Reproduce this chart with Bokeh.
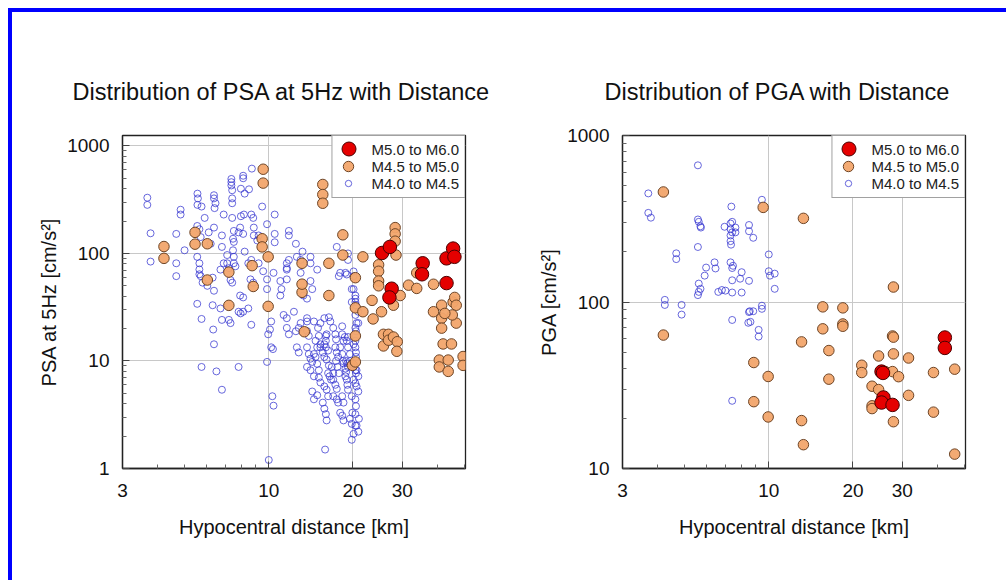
from bokeh.plotting import figure
from bokeh.models import Range1d, FixedTicker, PrintfTickFormatter, Legend, LegendItem, Spacer
from bokeh.layouts import row, column
from bokeh.embed import file_html
from bokeh.resources import INLINE

FONT = "Liberation Sans"

legend_labels = ["M5.0 to M6.0", "M4.5 to M5.0", "M4.0 to M4.5"]
x_ticks = [3, 10, 20, 30]
x_minor = [4, 5, 6, 7, 8, 9, 40, 50]

# ---------------- PSA at 5 Hz (left panel) ----------------
psa_m50_dist = [25.4, 27.1, 27.5, 27.0, 35.5, 35.3, 43.2, 45.6, 46.1, 43.2]
psa_m50_val = [101, 115, 47, 39, 81, 64, 90, 111, 93, 53]

psa_m45_dist = [4.22, 4.22, 5.45, 5.45, 6.03, 6.03, 7.2, 7.2, 8.72, 8.8, 9.55, 9.55, 9.47, 9.47,
                9.95, 9.95, 13.15, 13.15, 13.15, 13.4, 15.6, 15.6, 15.6, 16.4, 16.4, 18.4, 18.4,
                20.4, 20.4, 20.4, 19.9, 20.4, 21.7, 21.7, 23.4, 23.6, 24.7, 24.7, 24.7, 24.7,
                25.3, 25.7, 25.7, 26.8, 26.8, 27.9, 28.3, 28.3, 28.3, 28.5, 28.8, 28.7, 29.5,
                27.9, 31.6, 33.8, 33.8, 38.8, 38.8, 41.5, 41.5, 41.5, 42.0, 40.7, 40.7, 43.8,
                43.8, 45.0, 45.6, 46.2, 46.8, 46.8, 45.3, 49.5, 49.5, 42.6]
psa_m45_val = [116, 90, 157, 122, 123, 56.6, 67, 32.9, 77, 49.3, 607, 451, 137, 115,
               93, 32.2, 81, 43.5, 51.8, 18.7, 438, 353, 293, 81, 40.6, 149, 96.6,
               59.5, 31.2, 17.1, 9.1, 9.8, 93, 28.7, 36.6, 24.6, 78.4, 68.3, 55.4, 50,
               28.7, 17.7, 13.8, 17.7, 15.6, 16.7, 174, 152, 130, 96.6, 15.1, 12.3, 40.6,
               33, 50.7, 47.3, 66, 51.7, 28.7, 33, 25, 20.2, 14.4, 10.2, 8.8, 10.2,
               8.0, 14.4, 35.3, 39, 33, 22.5, 26.8, 11.0, 9.1, 27.7]

psa_m40_dist = [8.7, 8.1, 8.1, 7.35, 7.35, 7.35, 7.4, 8.5, 7.4, 7.4, 6.37, 6.45, 6.4, 5.56, 5.58,
                5.56, 5.75, 4.84, 4.84, 3.68, 3.68, 5.9, 6.9, 7.95, 8.15, 8.66, 8.8, 9.47, 10.5,
                7.95, 8.2, 7.4, 7.9, 6.37,
                3.78, 3.78, 4.67, 4.67, 4.67, 5.0, 5.55, 5.65, 5.71, 6.1, 6.2, 6.8, 6.37, 6.8,
                7.45, 7.5, 7.5, 7.8, 8.1, 8.2, 8.84, 8.84, 9.2, 9.1, 9.86, 10.5, 10.5, 11.8, 11.8,
                12.5, 13.2, 14.1, 14.1, 11.8, 11.6, 5.55, 5.65, 5.65, 5.65, 5.71, 5.8, 6.03, 6.3,
                6.37, 6.72, 6.9, 7.1, 7.1, 7.2, 7.3, 7.45, 7.5, 7.5, 7.6, 7.4, 7.9, 8.1, 8.6, 8.8,
                8.45, 8.66, 9.2, 9.55, 9.86, 9.86, 10.4, 11.0, 11.1, 11.6, 11.6, 11.6, 12.6, 13.0,
                13.0, 14.1, 14.3, 13.3, 13.7, 14.9, 17.5, 18.0, 17.8, 18.8, 19.0, 19.2, 19.2, 20.1,
                20.1, 19.8, 20.4, 20.9, 20.9, 20.4, 20.1,
                5.55, 5.75, 6.33, 6.37, 6.3, 6.72, 6.8, 7.2, 7.3, 7.8, 7.93, 8.1, 8.45, 8.66, 5.75,
                6.5, 6.8, 7.8, 9.86, 9.95, 10.1, 10.2, 10.35, 10.3, 10.4, 10.0, 11.6, 11.8, 11.6,
                11.3, 12.3, 13.0, 12.8, 12.6, 12.8, 13.7, 13.9, 13.7, 13.7, 13.7, 13.9, 14.1, 14.3,
                13.7, 14.1, 14.5, 14.3, 14.5, 14.9, 15.1, 15.3, 15.0, 15.1, 15.3, 15.3, 15.6, 15.8,
                15.8, 16.0, 16.0, 16.1, 16.0, 16.3, 16.1, 16.4, 16.3, 16.5, 16.7, 15.8, 16.1, 16.3,
                15.6, 15.8, 16.0, 16.1, 15.9, 16.8, 17.0, 17.0, 17.3, 17.4, 17.3, 17.5, 17.7, 17.4,
                17.6, 17.8, 17.0, 17.3, 17.5, 17.0, 17.5, 17.7, 18.0, 18.3, 18.5, 18.3, 18.5, 18.3,
                18.3, 18.5, 18.0, 18.3, 18.4, 18.5, 18.8, 18.9, 18.8, 19.0, 19.1, 19.2, 19.0, 19.2,
                18.7, 19.2, 19.5, 18.9, 19.1, 19.2, 19.5, 19.7, 20.1, 20.4, 20.5, 20.1, 20.4, 19.8,
                20.4, 20.5, 19.9, 20.4, 19.5, 19.8, 20.4, 20.1, 19.8, 20.9, 20.6, 21.0, 20.4, 20.5,
                20.5, 20.4, 20.5, 20.6, 20.1, 20.4, 20.6, 20.9, 20.6, 20.9, 16.6, 16.4, 15.8, 15.3,
                14.5, 14.7, 14.9, 14.5, 14.7, 14.9, 15.1, 20.4, 20.5, 19.8, 20.4, 12.5, 11.0, 10.2]
psa_m40_val = [615, 528, 500, 493, 460, 429, 387, 395, 325, 293, 325, 293, 264, 360, 325,
               283, 273, 255, 230, 330, 283, 214, 230, 222, 230, 230, 214, 273, 230,
               400, 360, 214, 174, 348,
               154, 84, 152, 81, 61.5, 107, 180, 168, 142, 157, 123, 115, 174, 147,
               137, 128, 162, 157, 152, 104, 174, 147, 147, 132, 187, 152, 127, 162, 147,
               123, 104, 93, 81, 87, 73, 93, 81, 71, 64, 61.5, 53.5, 50, 59.5,
               45, 70.7, 81, 96.6, 81, 73, 56.6, 107, 93, 81, 76, 53.5, 40.6, 39, 57.4, 53.5,
               81, 87, 81, 68.3, 57.4, 46.6, 66, 55.4, 46.6, 81, 70.7, 57.4, 93, 66,
               87, 55.4, 46.6, 40.6, 38, 70.7, 115, 66, 61.5, 66, 63.7, 100, 87, 68,
               46.6, 35.3, 40.6, 28.7, 22.5, 26.8, 61.5,
               34, 24.6, 19.6, 14.3, 33, 30.8, 24.1, 24.1, 22.5, 28.7, 27.7, 28.7, 30.8, 21.7, 8.8,
               8.0, 5.4, 8.8, 9.8, 17.7, 19.6, 13.4, 12.9, 4.7, 3.84, 1.2, 20.3, 17.7, 25,
               26.8, 28.7, 22.5, 20.3, 13.4, 12, 19, 17.1, 25, 23.3, 13.4, 11.6, 10.5, 9.8,
               8.8, 8.2, 7.2, 5.2, 4.4, 4.8, 7.0, 6.3, 20.3, 17.1, 14.3, 13.4, 12.0, 10.9,
               14.3, 15.4, 17.1, 17.7, 13.4, 12.5, 10.3, 9.1, 7.7, 7.2, 6.7, 5.8, 5.4, 4.7,
               4.1, 3.6, 3.2, 2.8, 1.5, 8.8, 7.7, 20.3, 17.7, 15.9, 13.4, 12, 10.9, 10,
               8.8, 7.7, 6.7, 6.0, 5.5, 4.7, 4.4, 4.1, 3.3, 3.1, 2.8, 4.7, 4.1, 21,
               17.7, 15.4, 13.4, 11.6, 10, 9.5, 8.5, 7.9, 7.2, 6.7, 6.0, 5.4, 15.4, 16.7,
               16.7, 13.4, 11.6, 10, 9.5, 8.8, 10, 9.4, 8.8, 8.2, 7.7, 6.7, 6.2, 4.7,
               4.4, 3.8, 3.3, 3.2, 2.9, 2.6, 2.5, 2.1, 1.85, 2.2, 2.5, 2.9, 13.4, 12,
               10.9, 20.3, 18.9, 22.5, 14.3, 15.4, 8.2, 7.2, 5.8, 5.2, 23.3, 25.5, 25, 22.5,
               23.3, 15.4, 13.4, 11.6, 10.9, 9.4, 8.2, 35.3, 33, 46.6, 38, 18.9, 40.6, 23.3]

# ---------------- PGA (right panel) ----------------
pga_m50_dist = [25.3, 25.6, 25.7, 25.3, 27.7, 42.6, 42.6]
pga_m50_val = [38.2, 37.5, 26.7, 24.9, 24.1, 61.2, 53]

pga_m45_dist = [4.2, 4.2, 9.55, 8.84, 8.84, 9.95, 9.95, 13.3, 13.1, 13.1, 13.3, 15.6, 15.6, 16.4,
                16.4, 18.4, 18.4, 18.4, 21.5, 21.5, 23.4, 23.4, 23.4, 24.7, 24.7, 26.1, 27.7,
                27.9, 27.9, 27.7, 29.1, 27.9, 27.9, 31.6, 31.6, 38.8, 38.8, 46.2, 46.2]
pga_m45_val = [458, 63.3, 370, 43.3, 25.2, 35.7, 20.4, 318, 57.6, 19.4, 13.9, 93.5, 69, 51.1,
               34.4, 92.2, 73.8, 71.5, 41.7, 37.7, 31.2, 23.8, 22.9, 47.4, 29.8, 38.2, 62.5,
               61.5, 48.8, 38.2, 35.6, 19.1, 123, 46.1, 27.5, 37.7, 21.8, 39.5, 12.2]

pga_m40_dist = [3.71, 3.71, 3.79, 5.58, 5.58, 5.62, 5.7, 5.72, 5.58, 4.25, 4.25, 4.67, 4.67, 4.88,
                4.88, 5.62, 5.62, 5.7, 5.58, 5.97, 5.9, 6.4, 6.45, 6.6, 6.8, 6.95, 7.0, 7.3, 7.4,
                7.35, 7.3, 7.4, 7.3, 7.3, 7.33, 7.3, 7.45, 7.4, 7.4, 7.4, 7.6, 7.6, 7.4, 7.4, 8.0,
                7.9, 8.0, 8.5, 8.5, 8.5, 8.8, 8.5, 8.6, 8.45, 8.55, 8.8, 9.2, 9.2, 9.45, 9.45,
                9.45, 10.0, 10.0, 10.1, 10.5, 10.5]
pga_m40_val = [449, 343, 321, 662, 313, 303, 285, 280, 214, 103, 96, 196, 181, 96,
               84, 129, 115, 120, 110, 161, 144, 173, 159, 115, 118, 283, 117, 296, 303,
               374, 251, 262, 274, 232, 221, 173, 165, 160, 135, 114, 280, 262, 78, 25.5, 151,
               138, 114, 290, 266, 134, 243, 87, 76, 75, 88, 88, 68, 62, 411, 95,
               91, 193, 153, 144, 148, 120]

FRAME_W, FRAME_H = 343, 333


def make_panel(title, title_offset, ylabel, y_start, y_end, y_ticks, y_minor,
               m50_x, m50_y, m45_x, m45_y, m40_x, m40_y, right_border):
    p = figure(x_axis_type="log", y_axis_type="log",
               x_range=Range1d(3, 50.5), y_range=Range1d(y_start, y_end),
               frame_width=FRAME_W, frame_height=FRAME_H,
               min_border_left=110, min_border_right=right_border,
               min_border_top=123, min_border_bottom=88,
               output_backend="svg", toolbar_location=None)
    p.background_fill_color = "white"
    p.border_fill_color = "white"
    p.outline_line_color = "#222222"
    p.outline_line_width = 1.3

    p.title.text = title
    p.title.text_font = FONT
    p.title.text_font_size = "23.5px"
    p.title.text_font_style = "normal"
    p.title.text_color = "#111111"
    p.title.align = "left"
    p.title.offset = title_offset
    p.title.standoff = 62

    p.xaxis.ticker = FixedTicker(ticks=x_ticks, minor_ticks=x_minor)
    p.yaxis.ticker = FixedTicker(ticks=y_ticks, minor_ticks=y_minor)
    p.xaxis.formatter = PrintfTickFormatter(format="%d")
    p.yaxis.formatter = PrintfTickFormatter(format="%d")
    p.xaxis.axis_label = "Hypocentral distance [km]"
    p.yaxis.axis_label = ylabel
    for ax in (p.xaxis, p.yaxis):
        ax.axis_line_color = "#222222"
        ax.axis_line_width = 1.3
        ax.major_tick_in = 7
        ax.major_tick_out = 0
        ax.minor_tick_in = 4
        ax.minor_tick_out = 0
        ax.major_tick_line_color = "#444444"
        ax.minor_tick_line_color = "#666666"
        ax.major_label_text_font = FONT
        ax.major_label_text_font_size = "19px"
        ax.major_label_text_color = "#111111"
        ax.axis_label_text_font = FONT
        ax.axis_label_text_font_size = "20px"
        ax.axis_label_text_font_style = "normal"
        ax.axis_label_text_color = "#111111"
    p.xaxis.major_label_standoff = 15
    p.xaxis.axis_label_standoff = 16
    p.yaxis.major_label_standoff = 13
    p.yaxis.axis_label_standoff = 4
    p.grid.grid_line_color = "#c8c8c8"
    p.grid.grid_line_width = 1

    r40 = p.scatter(m40_x, m40_y, marker="circle", size=7, fill_alpha=0,
                    line_color="#3535d0", line_alpha=0.75, line_width=1)
    r45 = p.scatter(m45_x, m45_y, marker="circle", size=10.5, fill_color="#f2a56b",
                    fill_alpha=0.95, line_color="#6e4526", line_width=1)
    r50 = p.scatter(m50_x, m50_y, marker="circle", size=13.5, fill_color="#e50000",
                    line_color="#4a0000", line_width=1)

    # legend box with text (glyphs invisible)
    dummies = [p.scatter(x=[], y=[], marker="circle", size=1, fill_alpha=0, line_alpha=0)
               for _ in range(3)]
    main = Legend(items=[LegendItem(label=l, renderers=[d]) for l, d in zip(legend_labels, dummies)],
                  location="top_right", margin=0, padding=5, spacing=0,
                  glyph_width=19, glyph_height=17, label_height=17, label_standoff=15,
                  label_text_font=FONT, label_text_font_size="15px", label_text_color="#222222",
                  border_line_color="#444444", border_line_width=1,
                  background_fill_color="white", background_fill_alpha=1.0)
    p.add_layout(main)

    # glyph-only legends so that the three markers keep their own sizes
    cx = 226
    for r, g, cy in [(r50, 35, 13.5), (r45, 26, 30.5), (r40, 16, 47.5)]:
        lg = Legend(items=[LegendItem(label=" ", renderers=[r])],
                    location=(cx - g / 2, FRAME_H - (cy + g / 2)),
                    margin=0, padding=0, spacing=0,
                    glyph_width=g, glyph_height=g, label_width=0, label_height=0,
                    label_standoff=0, label_text_font_size="1px", label_text_alpha=0,
                    border_line_alpha=0, background_fill_alpha=0)
        p.add_layout(lg)
    return p


p1 = make_panel("Distribution of PSA at 5Hz with Distance", -50, "PSA at 5Hz [cm/s²]",
                1, 1250, [1, 10, 100, 1000],
                [2, 3, 4, 5, 6, 7, 8, 9, 20, 30, 40, 50, 60, 70, 80, 90,
                 200, 300, 400, 500, 600, 700, 800, 900],
                psa_m50_dist, psa_m50_val, psa_m45_dist, psa_m45_val, psa_m40_dist, psa_m40_val, 47)
p2 = make_panel("Distribution of PGA with Distance", -18, "PGA [cm/s²]",
                10, 1000, [10, 100, 1000],
                [20, 30, 40, 50, 60, 70, 80, 90, 200, 300, 400, 500, 600, 700, 800, 900],
                pga_m50_dist, pga_m50_val, pga_m45_dist, pga_m45_val, pga_m40_dist, pga_m40_val, 35)

top_bar = Spacer(width=998, height=4, styles={"background-color": "#0000ff"})
left_bar = Spacer(width=4, height=568, styles={"background-color": "#0000ff"})
content = column(top_bar, row(left_bar, p1, p2))
layout = column(Spacer(width=1000, height=8), row(Spacer(width=8, height=572), content))

open("out.html", "w").write(file_html(layout, INLINE))
